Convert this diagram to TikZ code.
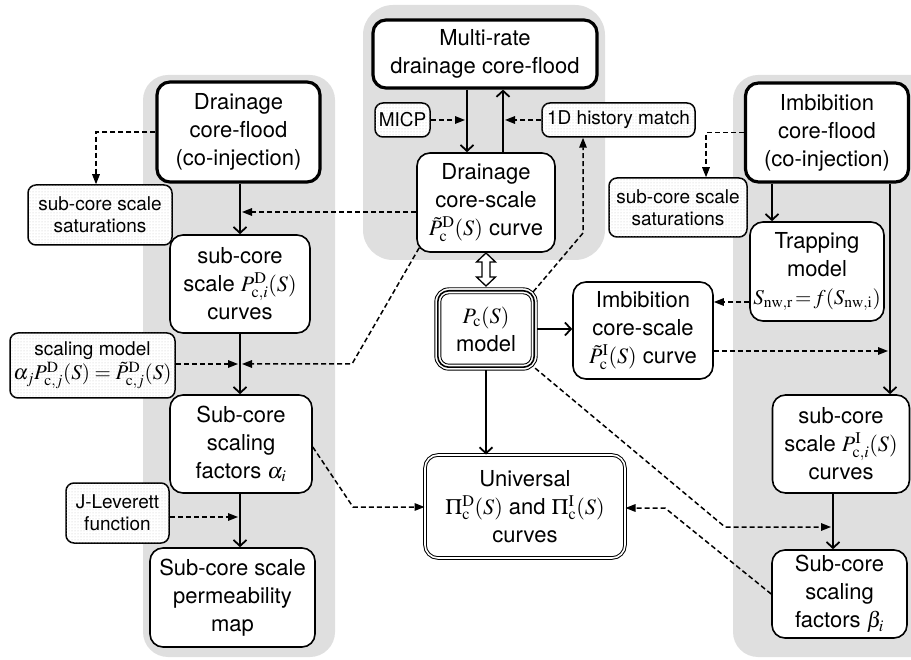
\documentclass[tikz,border=0pt]{standalone}
\usepackage{mathptmx}
\usepackage[no-math]{fontspec}
\setmainfont{TeX Gyre Heros}
\usetikzlibrary{arrows.meta,patterns,calc}
\newcommand\fsbig{\fontsize{22}{28}\selectfont}
\newcommand\fssmall{\fontsize{19}{22}\selectfont}
\newcommand\fsmath{\fontsize{21}{24}\selectfont}
\begin{document}
\begin{tikzpicture}[x=1pt,y=-1pt,
  box/.style={draw, line width=1.6pt, rounded corners=13pt, fill=white, align=center, inner sep=0pt, font=\fsbig},
  thickbox/.style={box, line width=3.2pt},
  note/.style={draw, line width=1.5pt, rounded corners=8pt, align=center, inner sep=0pt, font=\fssmall, fill=white, postaction={pattern=dots, pattern color=gray!45}},
  sarrow/.style={line width=1.8pt, -{Straight Barb[length=6pt,width=13pt,line width=1.8pt]}},
  darrow/.style={line width=1.5pt, dash pattern=on 5pt off 3pt, -{Triangle[length=10pt,width=7.5pt]}},
  bg/.style={fill=gray!25}
]
\useasboundingbox (0,0) rectangle (911,660);
\clip (0,0) rectangle (911,660);
% backgrounds
\fill[bg, rounded corners=25pt] (143,75) rectangle (335,657);
\fill[bg, rounded corners=30pt] (363,5) rectangle (605,260);
\fill[bg, rounded corners=25pt] (733,75) rectangle (950,657);

% left column
\node[thickbox, minimum width=163pt, minimum height=100pt] (dcf) at (238.5,132) {Drainage\\core-flood\\(co-injection)};
\node[note, minimum width=144pt, minimum height=60pt] (lsat) at (100,215) {sub-core scale\\saturations};
\node[box, minimum width=140pt, minimum height=98pt] (lcurves) at (240,284) {sub-core\\scale $P^{\mathrm D}_{\mathrm{c},i}(S)$\\curves};
\node[note, minimum width=165pt, minimum height=65pt] (scal) at (92.5,365.5) {scaling model\\[1pt]{\fsmath$\alpha_j P^{\mathrm D}_{\mathrm{c},j}(S) = \tilde P^{\mathrm D}_{\mathrm{c},j}(S)$}};
\node[box, minimum width=142pt, minimum height=98pt] (alpha) at (241,444) {Sub-core\\scaling\\factors $\alpha_i$};
\node[note, minimum width=103pt, minimum height=60pt] (jlev) at (117.5,513) {J-Leverett\\function};
\node[box, minimum width=165pt, minimum height=99pt] (perm) at (232.5,597.5) {Sub-core scale\\permeability\\map};

% centre
\node[thickbox, minimum width=224pt, minimum height=68pt] (mrate) at (485,54) {Multi-rate\\drainage core-flood};
\node[note, minimum width=55pt, minimum height=34pt] (micp) at (402.5,120) {MICP};
\node[note, minimum width=153pt, minimum height=34pt] (hist) at (618.5,120) {1D history match};
\node[box, minimum width=138pt, minimum height=99pt] (dcs) at (486,202.5) {Drainage\\core-scale\\$\tilde P^{\mathrm D}_{\mathrm c}(S)$ curve};
\node[minimum width=102pt, minimum height=82pt, inner sep=0pt, align=center, font=\fsbig, fill=white, rounded corners=14pt] (pcm) at (486,329) {$P_{\mathrm c}(S)$\\model};
\draw[line width=0.9pt, rounded corners=14pt] (pcm.south west) rectangle (pcm.north east);
\draw[line width=1.6pt, rounded corners=11pt] ($(pcm.north west)+(3,3)$) rectangle ($(pcm.south east)+(-3,-3)$);
\draw[line width=0.9pt, rounded corners=8pt] ($(pcm.north west)+(6,6)$) rectangle ($(pcm.south east)+(-6,-6)$);
\node[box, double, double distance=1.6pt, line width=1pt, minimum width=200pt, minimum height=103pt] (univ) at (525,506.5) {Universal\\$\Pi^{\mathrm D}_{\mathrm c}(S)$ and $\Pi^{\mathrm I}_{\mathrm c}(S)$\\curves};
\node[box, minimum width=140pt, minimum height=97pt] (ics) at (643,330.5) {Imbibition\\core-scale\\$\tilde P^{\mathrm I}_{\mathrm c}(S)$ curve};

% right column
\node[thickbox, minimum width=163pt, minimum height=99pt] (icf) at (827,132.5) {Imbibition\\core-flood\\(co-injection)};
\node[note, minimum width=138pt, minimum height=59pt] (rsat) at (678,207.5) {sub-core scale\\saturations};
\node[box, minimum width=134pt, minimum height=99pt] (trap) at (817,271.5) {Trapping\\model\\{\fsmath$S_{\mathrm{nw,r}}\,{=}\,f(S_{\mathrm{nw,i}})$}};
\node[box, minimum width=137pt, minimum height=98pt] (rcurves) at (841,444) {sub-core\\scale $P^{\mathrm I}_{\mathrm{c},i}(S)$\\curves};
\node[box, minimum width=135pt, minimum height=88pt] (beta) at (839.5,594) {Sub-core\\scaling\\factors $\beta_i$};

% helper coordinates
\coordinate (xl) at (240,0);
\coordinate (jA) at (242,212);
\coordinate (jB) at (242,364);
\coordinate (kB) at (352,364);
\coordinate (jB2) at (238,364);
\coordinate (jC) at (238,517);
\coordinate (kD) at (353,507);
\coordinate (xa) at (467,0);
\coordinate (xb) at (503,0);
\coordinate (mA) at (465,120);
\coordinate (mB) at (505,120);
\coordinate (hA) at (583,233);
\coordinate (kE) at (725,527);
\coordinate (jE) at (831,527);
\coordinate (kF) at (665,508);
\coordinate (xc) at (772,0);
\coordinate (xd) at (890,0);
\coordinate (xe) at (833,0);
\coordinate (tA) at (0,302);
\coordinate (tB) at (888,351);

% left connectors
\draw[darrow] (dcf.west) -| ([xshift=-4pt]lsat.north);
\draw[sarrow] (dcf.south -| xl) -- (lcurves.north -| xl);
\draw[darrow] (dcs.west |- jA) -- (jA);
\draw[sarrow] (lcurves.south -| xl) -- (alpha.north -| xl);
\draw[darrow] (scal.east |- jB2) -- (jB2);
\draw[darrow] ($(dcs.south west)+(3,-5)$) -- (kB) -- (jB);
\draw[sarrow] (alpha.south -| xl) -- (perm.north -| xl);
\draw[darrow] (jlev.east |- jC) -- (jC);
\draw[darrow] ($(alpha.east)+(0,3)$) -- (kD) -- (univ.west |- kD);

% centre connectors
\draw[sarrow] (mrate.south -| xa) -- (dcs.north -| xa);
\draw[sarrow] (dcs.north -| xb) -- (mrate.south -| xb);
\draw[darrow] (micp.east) -- (mA);
\draw[darrow] (hist.west) -- (mB);
\draw[darrow] ($(pcm.north east)+(-4,4)$) -- (hA) -- (hist.south -| hA);
\draw[line width=1.3pt, fill=white] (486,253) -- (495.5,262) -- (490,262) -- (490,277) -- (495.5,277) -- (486,286) -- (476.5,277) -- (482,277) -- (482,262) -- (476.5,262) -- cycle;
\draw[sarrow] (pcm.east) -- (ics.west |- pcm.east);
\draw[sarrow] (pcm.south) -- (univ.north -| pcm.south);
\draw[darrow] ($(pcm.south east)+(-2,-2)$) -- (kE) -- (jE);
\draw[darrow] (beta.west) -- (kF) -- (univ.east |- kF);

% right connectors
\draw[darrow] (icf.west) -| ([xshift=28pt]rsat.north);
\draw[sarrow] (icf.south -| xc) -- (trap.north -| xc);
\draw[sarrow] (icf.south -| xd) -- (rcurves.north -| xd);
\draw[darrow] (trap.west |- tA) -- (ics.east |- tA);
\draw[darrow] (ics.east |- tB) -- (tB);
\draw[sarrow] (rcurves.south -| xe) -- (beta.north -| xe);
\end{tikzpicture}
\end{document}
